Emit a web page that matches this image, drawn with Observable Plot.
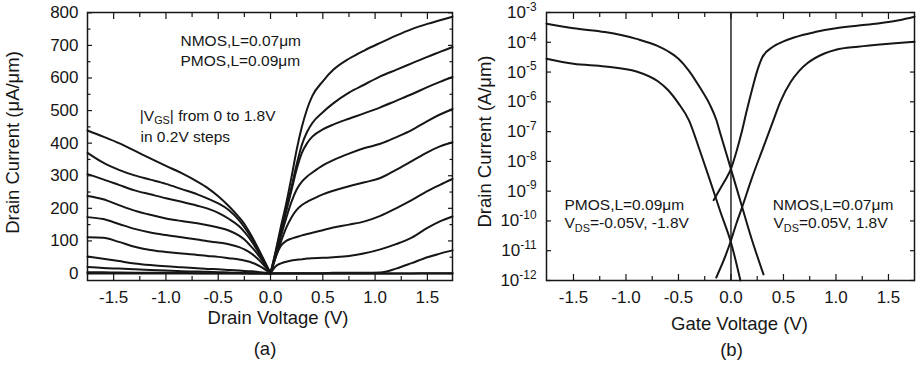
<!DOCTYPE html>
<html><head><meta charset="utf-8">
<script src="https://cdn.jsdelivr.net/npm/d3@7"></script>
<script src="https://cdn.jsdelivr.net/npm/@observablehq/plot@0.6"></script>
<style>
body{margin:0;background:#fff;}
#wrap{display:flex;width:919px;height:374px;overflow:hidden;}
</style></head><body><div id="wrap"></div>
<script>
// ---------- Panel (a): Id vs Vd ----------
const vgsSteps = ["1.8","1.6","1.4","1.2","1.0","0.8","0.6","0.4","0.2","0.0"];
const nmosVd = [0,0.05,0.1,0.15,0.2,0.25,0.3,0.35,0.4,0.5,0.6,0.75,0.9,1.05,1.2,1.35,1.5,1.62,1.74];
const nmos18 = [0,70,145,215,295,380,450,505,545,590,625,659,685,708,730,750,766,777,788];
const nmos16 = [0,65,135,200,265,335,395,435,462,495,522,555,580,605,625,645,665,680,695];
const nmos14 = [0,60,125,190,255,320,370,400,420,442,457,475,492,510,530,550,572,588,603];
const nmos12 = [0,55,115,170,220,258,282,298,310,332,348,368,385,398,418,440,468,488,505];
const nmos10 = [0,50,98,140,172,195,210,220,228,243,254,268,280,293,318,345,372,390,403];
const nmos08 = [0,52,85,100,107,112,117,121,125,133,141,150,160,177,200,225,253,272,290];
const nmos06 = [0,22,31,36,40,42,44,46,47,48,50,54,62,74,90,110,140,160,175];
const nmos04 = [0,1,1,1,1,1,1,1,1,1,2,2,2,3,15,32,50,61,71];
const nmos02 = [0,0,0,0,0,0,0,0,0,0,0,0,0,0,0,0,1,1,1];
const nmos00 = [0,0,0,0,0,0,0,0,0,0,0,0,0,0,0,0,0,0,0];

const pmosVd = [-1.75,-1.6,-1.45,-1.3,-1.15,-1.0,-0.85,-0.7,-0.6,-0.5,-0.4,-0.3,-0.25,-0.2,-0.15,-0.1,-0.05,0];
const pmos18 = [439,420,400,377,353,330,308,282,262,237,207,172,152,126,97,65,33,0];
const pmos16 = [370,340,318,301,288,275,259,243,230,215,195,163,142,118,92,62,31,0];
const pmos14 = [305,289,272,255,243,231,220,208,199,186,168,145,128,108,83,57,29,0];
const pmos12 = [238,228,210,193,180,169,161,154,148,141,132,116,104,88,70,49,25,0];
const pmos10 = [173,167,152,137,126,118,111,104,99,95,90,81,74,65,53,38,20,0];
const pmos08 = [111,110,97,82,72,66,61,57,54,51,47,43,40,36,30,22,12,0];
const pmos06 = [52,45,38,31,26,22,19,16,14,13,11,9,8,7,6,4,2,0];
const pmos04 = [20,17,15,13,11,9,7,6,5,4,3,2,2,1,1,1,0,0];
const pmos02 = [4,3.5,3,2.5,2,2,1.5,1,1,1,0.5,0.5,0,0,0,0,0,0];
const pmos00 = [0,0,0,0,0,0,0,0,0,0,0,0,0,0,0,0,0,0];

const xTicksMajor = [-1.5,-1,-0.5,0,0.5,1,1.5];
const xTicksMinor = [-1.25,-0.75,-0.25,0.25,0.75,1.25];
const yTicksA = [0,100,200,300,400,500,600,700,800];
const yTicksAMinor = [50,150,250,350,450,550,650,750];

// ---------- Panel (b): Id vs Vg (log) ----------
const pmosSat = [[-1.757,4.2e-4],[-1.5,2.95e-4],[-1.2,2.2e-4],[-0.9,1.3e-4],[-0.7,7.6e-5],[-0.6,5.0e-5],[-0.5,2.8e-5],[-0.4,1.1e-5],[-0.3,3.2e-6],[-0.2,7.9e-7],[-0.14,2.5e-7],[-0.1,8.3e-8],[0,5.5e-9],[0.1,3.5e-10],[0.2,2.3e-11],[0.31,1.6e-12]];
const pmosLin = [[-1.757,2.8e-5],[-1.5,1.9e-5],[-1.2,1.55e-5],[-0.9,1.05e-5],[-0.7,5.0e-6],[-0.6,2.5e-6],[-0.5,8.9e-7],[-0.4,2.4e-7],[-0.3,2.5e-8],[-0.2,2.3e-9],[-0.1,2.0e-10],[0,1.9e-11],[0.09,1.0e-12]];
const nmosSat = [[-0.165,5.0e-10],[-0.1,1.26e-9],[-0.05,2.5e-9],[0,5.6e-9],[0.05,2.0e-8],[0.1,8.9e-8],[0.15,5.0e-7],[0.2,2.5e-6],[0.25,1.1e-5],[0.3,3.2e-5],[0.4,7.1e-5],[0.5,1.07e-4],[0.6,1.45e-4],[0.8,2.2e-4],[1.0,2.95e-4],[1.2,3.6e-4],[1.4,4.3e-4],[1.6,5.5e-4],[1.748,7.2e-4]];
const nmosLin = [[-0.14,1.26e-12],[-0.05,7.1e-12],[0,2.2e-11],[0.05,7.9e-11],[0.1,2.5e-10],[0.2,2.8e-9],[0.3,2.5e-8],[0.4,2.2e-7],[0.47,1.0e-6],[0.57,4.7e-6],[0.65,1.1e-5],[0.73,2.0e-5],[0.89,4.2e-5],[1.0,5.6e-5],[1.21,7.1e-5],[1.53,9.1e-5],[1.748,1.05e-4]];
const yTicksB = [1e-12,1e-11,1e-10,1e-9,1e-8,1e-7,1e-6,1e-5,1e-4,1e-3];
const zeroGate = [0];

// ---------- build tables ----------
const nmosCurves = [nmos18,nmos16,nmos14,nmos12,nmos10,nmos08,nmos06,nmos04,nmos02,nmos00];
const pmosCurves = [pmos18,pmos16,pmos14,pmos12,pmos10,pmos08,pmos06,pmos04,pmos02,pmos00];
const rowsA = [];
vgsSteps.forEach((g,k) => {
  nmosVd.forEach((v,i) => rowsA.push({s:"n"+g, v, id:nmosCurves[k][i]}));
  pmosVd.forEach((v,i) => rowsA.push({s:"p"+g, v, id:pmosCurves[k][i]}));
});
const rowsB = [];
[["pSat",pmosSat],["pLin",pmosLin],["nSat",nmosSat],["nLin",nmosLin]].forEach(([s,arr]) =>
  arr.forEach(([v,id]) => rowsB.push({s, v, id})));

const FONT = '"Liberation Sans", Arial, Helvetica, sans-serif';
const INK = "#161616";
const fmt1 = d => d.toFixed(1);
const blank = () => "";

function frameTicks(xMaj, xMin, yMaj, yMin) {
  const m = [];
  for (const anchor of ["bottom","top"]) {
    m.push(Plot.axisX({anchor, ticks: xMaj, tickSize: -6, tickFormat: blank, label: null, stroke: INK, strokeWidth: 1.2}));
    m.push(Plot.axisX({anchor, ticks: xMin, tickSize: -4, tickFormat: blank, label: null, stroke: INK, strokeWidth: 1.2}));
  }
  for (const anchor of ["left","right"]) {
    m.push(Plot.axisY({anchor, ticks: yMaj, tickSize: -5, tickFormat: blank, label: null, stroke: INK, strokeWidth: 1.2}));
    if (yMin) m.push(Plot.axisY({anchor, ticks: yMin, tickSize: -3.5, tickFormat: blank, label: null, stroke: INK, strokeWidth: 1.2}));
  }
  return m;
}

const left = Plot.plot({
  width: 459, height: 374, marginLeft: 87, marginRight: 7, marginTop: 12, marginBottom: 94,
  style: {fontFamily: FONT, fontSize: "17px", color: INK, background: "#fff"},
  x: {domain: [-1.75, 1.74], label: null},
  y: {domain: [-21.5, 801], label: null},
  marks: [
    Plot.line(rowsA, {x: "v", y: "id", z: "s", curve: "monotone-x", stroke: INK, strokeWidth: 2}),
    Plot.frame({stroke: INK, strokeWidth: 1.5}),
    ...frameTicks(xTicksMajor, xTicksMinor, yTicksA, yTicksAMinor),
    Plot.axisX({ticks: xTicksMajor, tickSize: 0, tickPadding: 10, tickFormat: fmt1, label: null, fontSize: 17}),
    Plot.axisY({ticks: yTicksA, tickSize: 0, tickPadding: 9, tickFormat: d => String(d), label: null, fontSize: 17}),
    Plot.text(["Drain Voltage (V)"], {frameAnchor: "bottom", textAnchor: "middle", dx: 8, dy: 43, fontSize: 18.5, fill: INK}),
    Plot.text(["(a)"], {frameAnchor: "bottom", textAnchor: "middle", dx: -5, dy: 74, fontSize: 18.5, fill: INK}),
    Plot.text(["Drain Current (\u03bcA/\u03bcm)"], {frameAnchor: "left", textAnchor: "middle", rotate: -90, dx: -74, dy: -4, fontSize: 18.5, fill: INK}),
    Plot.text(["NMOS,L=0.07\u03bcm"], {frameAnchor: "top-left", textAnchor: "start", dx: 93, dy: 22.3, fontSize: 15.5, fill: INK}),
    Plot.text(["PMOS,L=0.09\u03bcm"], {frameAnchor: "top-left", textAnchor: "start", dx: 93, dy: 42.3, fontSize: 15.5, fill: INK}),
    Plot.text(["|V_{GS}| from 0 to 1.8V"], {frameAnchor: "top-left", textAnchor: "start", dx: 52.3, dy: 97.5, fontSize: 15.5, fill: INK}),
    Plot.text(["in 0.2V steps"], {frameAnchor: "top-left", textAnchor: "start", dx: 53, dy: 118.5, fontSize: 15.5, fill: INK})
  ]
});

const right = Plot.plot({
  width: 460, height: 374, marginLeft: 87, marginRight: 5, marginTop: 12, marginBottom: 94,
  style: {fontFamily: FONT, fontSize: "17px", color: INK, background: "#fff"},
  x: {domain: [-1.757, 1.748], label: null},
  y: {type: "log", domain: [1e-12, 1e-3], label: null},
  marks: [
    Plot.ruleX(zeroGate, {stroke: INK, strokeWidth: 1.4}),
    Plot.line(rowsB, {x: "v", y: "id", z: "s", curve: "monotone-x", stroke: INK, strokeWidth: 2}),
    Plot.frame({stroke: INK, strokeWidth: 1.5}),
    ...frameTicks(xTicksMajor, xTicksMinor, yTicksB, null),
    Plot.axisX({ticks: xTicksMajor, tickSize: 0, tickPadding: 10, tickFormat: fmt1, label: null, fontSize: 17}),
    Plot.axisY({ticks: yTicksB, tickSize: 0, tickPadding: 10, tickFormat: d => "10^{" + Math.round(Math.log10(d)) + "}", label: null, fontSize: 17}),
    Plot.text(["Gate Voltage (V)"], {frameAnchor: "bottom", textAnchor: "middle", dx: 9, dy: 49, fontSize: 18.5, fill: INK}),
    Plot.text(["(b)"], {frameAnchor: "bottom", textAnchor: "middle", dx: 1, dy: 75, fontSize: 18.5, fill: INK}),
    Plot.text(["Drain Current (A/\u03bcm)"], {frameAnchor: "left", textAnchor: "middle", rotate: -90, dx: -61.5, dy: -5, fontSize: 18.5, fill: INK}),
    Plot.text(["PMOS,L=0.09\u03bcm"], {frameAnchor: "top-left", textAnchor: "start", dx: 18, dy: 186.3, fontSize: 15.5, fill: INK}),
    Plot.text(["V_{DS}=-0.05V, -1.8V"], {frameAnchor: "top-left", textAnchor: "start", dx: 18, dy: 204.7, fontSize: 15.5, fill: INK}),
    Plot.text(["NMOS,L=0.07\u03bcm"], {frameAnchor: "top-left", textAnchor: "start", dx: 226.3, dy: 186.3, fontSize: 15.5, fill: INK}),
    Plot.text(["V_{DS}=0.05V, 1.8V"], {frameAnchor: "top-left", textAnchor: "start", dx: 227, dy: 204.7, fontSize: 15.5, fill: INK})
  ]
});

// rich text: ^{..} superscript, _{..} subscript
function richify(svg) {
  d3.select(svg).selectAll("text").each(function() {
    const s = this.textContent;
    if (!/[\^_]\{/.test(s)) return;
    const fs = parseFloat(getComputedStyle(this).fontSize) || 16;
    const el = d3.select(this);
    el.text(null);
    const re = /([\^_])\{([^}]*)\}|([^\^_]+)/g;
    let m, shift = 0;
    while ((m = re.exec(s))) {
      if (m[3] !== undefined) {
        const t = el.append("tspan").text(m[3]);
        if (shift) t.attr("dy", -shift);
        shift = 0;
      } else {
        const off = m[1] === "^" ? -0.42 * fs : 0.22 * fs;
        el.append("tspan").attr("dy", off).attr("font-size", (0.7 * fs) + "px").text(m[2]);
        shift = off;
      }
    }
  });
}

const wrap = document.getElementById("wrap");
wrap.appendChild(left);
wrap.appendChild(right);
richify(left);
richify(right);
</script>
</body></html>
